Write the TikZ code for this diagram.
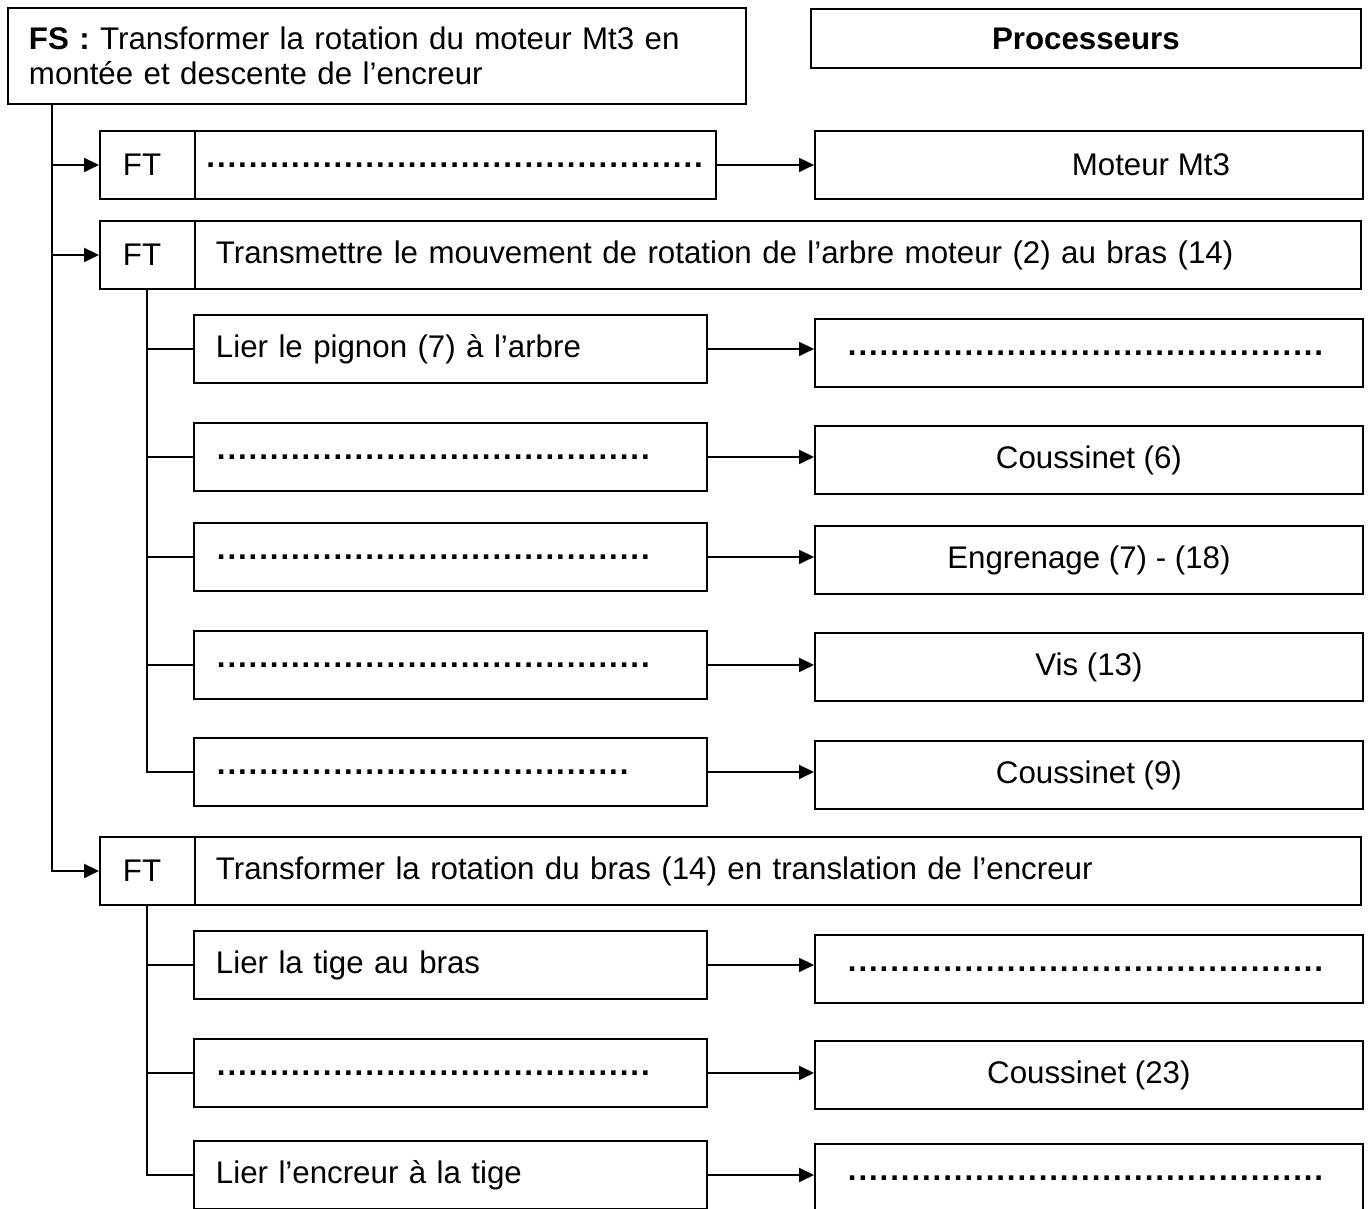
\documentclass[tikz,border=0pt]{standalone}
\usepackage{fontspec}
\setmainfont{Liberation Sans}
\usetikzlibrary{arrows.meta,positioning}
\newcommand\pointilles[1]{\hbox to #1{\leaders\hbox to 0.212cm{\hss\textbf{.}\hss}\hfill}}

\begin{document}
\begin{tikzpicture}[x=0.02cm, y=-0.02cm, line width=1.1pt,
  every node/.style={font=\fontsize{17.8}{20}\selectfont},
  cadre/.style={draw, anchor=north west, inner sep=0pt, minimum height=1.36cm},
  lbox/.style={cadre, minimum width=10.26cm, text width=9.38cm, inner xsep=0.44cm, align=left},
  rbox/.style={cadre, minimum width=10.96cm},
  ftbox/.style={cadre, minimum width=1.9cm, text width=0.98cm, inner xsep=0.46cm, align=left},
  fnbox/.style={cadre, minimum width=23.32cm, text width=22.48cm, inner xsep=0.42cm, align=left},
  fleche/.style={-{Triangle[length=0.3cm,width=0.28cm]}}]
\useasboundingbox (0,0) rectangle (1372,1208);

\node[cadre, minimum width=14.76cm, minimum height=1.92cm, text width=13.92cm, inner xsep=0.42cm, align=left] (fs) at (7,7)
  {\textbf{FS :} Transformer la rotation du moteur Mt3 en\\montée et descente de l'encreur};
\node[cadre, minimum width=11cm, minimum height=1.18cm, font=\fontsize{17.8}{20}\selectfont\bfseries] (proc) at (810,8) {Processeurs};

% FT1
\node[ftbox] (ft1) at (99,130) {FT};
\node[cadre, minimum width=10.42cm] (fn1) at (194,130) {\pointilles{10cm}};
\node[rbox] (mt3) at (814,130) {\hspace*{2.48cm}Moteur Mt3};

% FT2
\node[ftbox] (ft2) at (99,220) {FT};
\node[fnbox] (fn2) at (194,220) {Transmettre le mouvement de rotation de l'arbre moteur (2) au bras (14)};
\node[lbox] (a1) at (193,314) {Lier le pignon (7) à l'arbre};
\node[rbox] (b1) at (814,318) {\pointilles{9.68cm}};
\node[lbox] (a2) at (193,422) {\pointilles{8.9cm}};
\node[rbox] (b2) at (814,425) {Coussinet (6)};
\node[lbox] (a3) at (193,522) {\pointilles{8.9cm}};
\node[rbox] (b3) at (814,525) {Engrenage (7) - (18)};
\node[lbox] (a4) at (193,630) {\pointilles{8.9cm}};
\node[rbox] (b4) at (814,632) {Vis (13)};
\node[lbox] (a5) at (193,737) {\pointilles{8.44cm}};
\node[rbox] (b5) at (814,740) {Coussinet (9)};

% FT3
\node[ftbox] (ft3) at (99,836) {FT};
\node[fnbox] (fn3) at (194,836) {Transformer la rotation du bras (14) en translation de l'encreur};
\node[lbox] (c1) at (193,930) {Lier la tige au bras};
\node[rbox] (d1) at (814,934) {\pointilles{9.68cm}};
\node[lbox] (c2) at (193,1038) {\pointilles{8.9cm}};
\node[rbox] (d2) at (814,1040) {Coussinet (23)};
\node[lbox] (c3) at (193,1140) {Lier l'encreur à la tige};
\node[rbox] (d3) at (814,1143) {\pointilles{9.68cm}};

% liaisons
\coordinate (tronc) at ([xshift=0.9cm]fs.south west);
\draw[fleche] (tronc) |- (ft3.west);
\draw[fleche] (tronc |- ft1.west) -- (ft1.west);
\draw[fleche] (tronc |- ft2.west) -- (ft2.west);
\draw[fleche] (fn1.east) -- (fn1.east -| mt3.west);

\draw (ft2.south) |- (a5.west);
\foreach \n in {a1,a2,a3,a4}
  \draw (ft2.south |- \n.west) -- (\n.west);
\draw (ft3.south) |- (c3.west);
\foreach \n in {c1,c2}
  \draw (ft3.south |- \n.west) -- (\n.west);

\foreach \g/\d in {a1/b1,a2/b2,a3/b3,a4/b4,a5/b5,c1/d1,c2/d2,c3/d3}
  \draw[fleche] (\g.east) -- (\g.east -| \d.west);
\end{tikzpicture}
\end{document}
